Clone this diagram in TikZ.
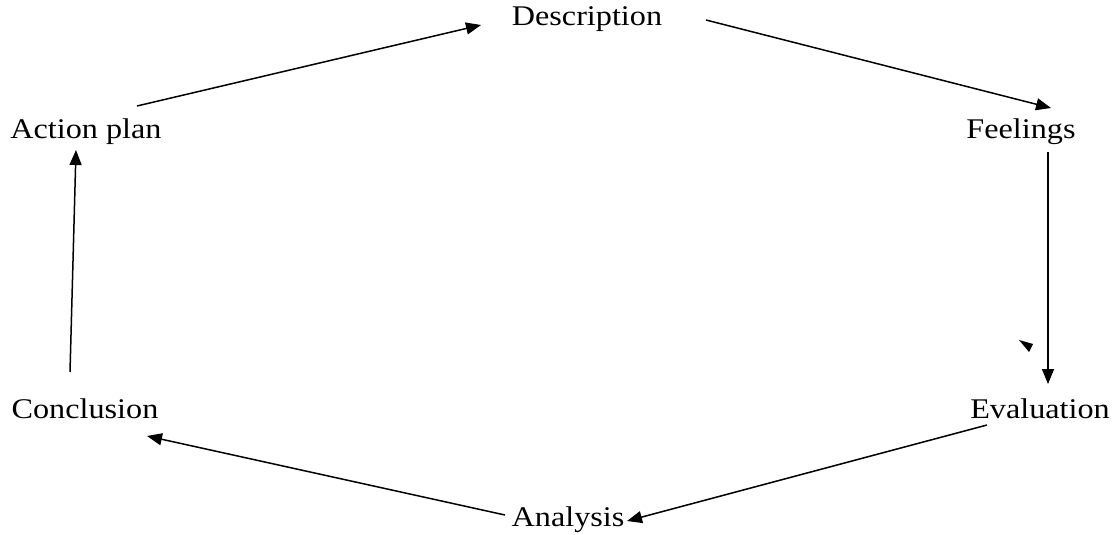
\documentclass[tikz,border=0pt]{standalone}
\usepackage{fontspec}
\setmainfont{Liberation Serif}[FakeStretch=1.13]
\usetikzlibrary{arrows.meta}
\begin{document}
\begin{tikzpicture}[x=1pt,y=-1pt,
  lbl/.style={inner sep=0pt,font=\fontsize{28.5}{31}\selectfont},
  conn/.style={line width=1.5pt,-{Triangle[length=15pt,width=12pt]}}]
\useasboundingbox (0,0) rectangle (1116,535);
\node[lbl] (desc) at (587,19) {Description};
\node[lbl] (feel) at (1021,132) {Feelings};
\node[lbl] (eval) at (1040,409) {Evaluation};
\node[lbl] (anal) at (568,520) {Analysis};
\node[lbl] (conc) at (85,409) {Conclusion};
\node[lbl] (act) at (86,132) {Action plan};
\coordinate (a1) at (137,106); \coordinate (a2) at (481,25);
\coordinate (b1) at (706,20);  \coordinate (b2) at (1051,108);
\coordinate (c1) at (1048,152); \coordinate (c2) at (1048,384);
\coordinate (d1) at (987,425); \coordinate (d2) at (627,521);
\coordinate (e1) at (505,515); \coordinate (e2) at (147,436);
\coordinate (f1) at (70,372);  \coordinate (f2) at (76,150);
\draw[conn] (a1) -- (a2);
\draw[conn] (b1) -- (b2);
\draw[conn] (c1) -- (c2);
\draw[conn] (d1) -- (d2);
\draw[conn] (e1) -- (e2);
\draw[conn] (f1) -- (f2);
\fill (1019,340) -- (1033,344) -- (1029,352) -- cycle;
\end{tikzpicture}
\end{document}
